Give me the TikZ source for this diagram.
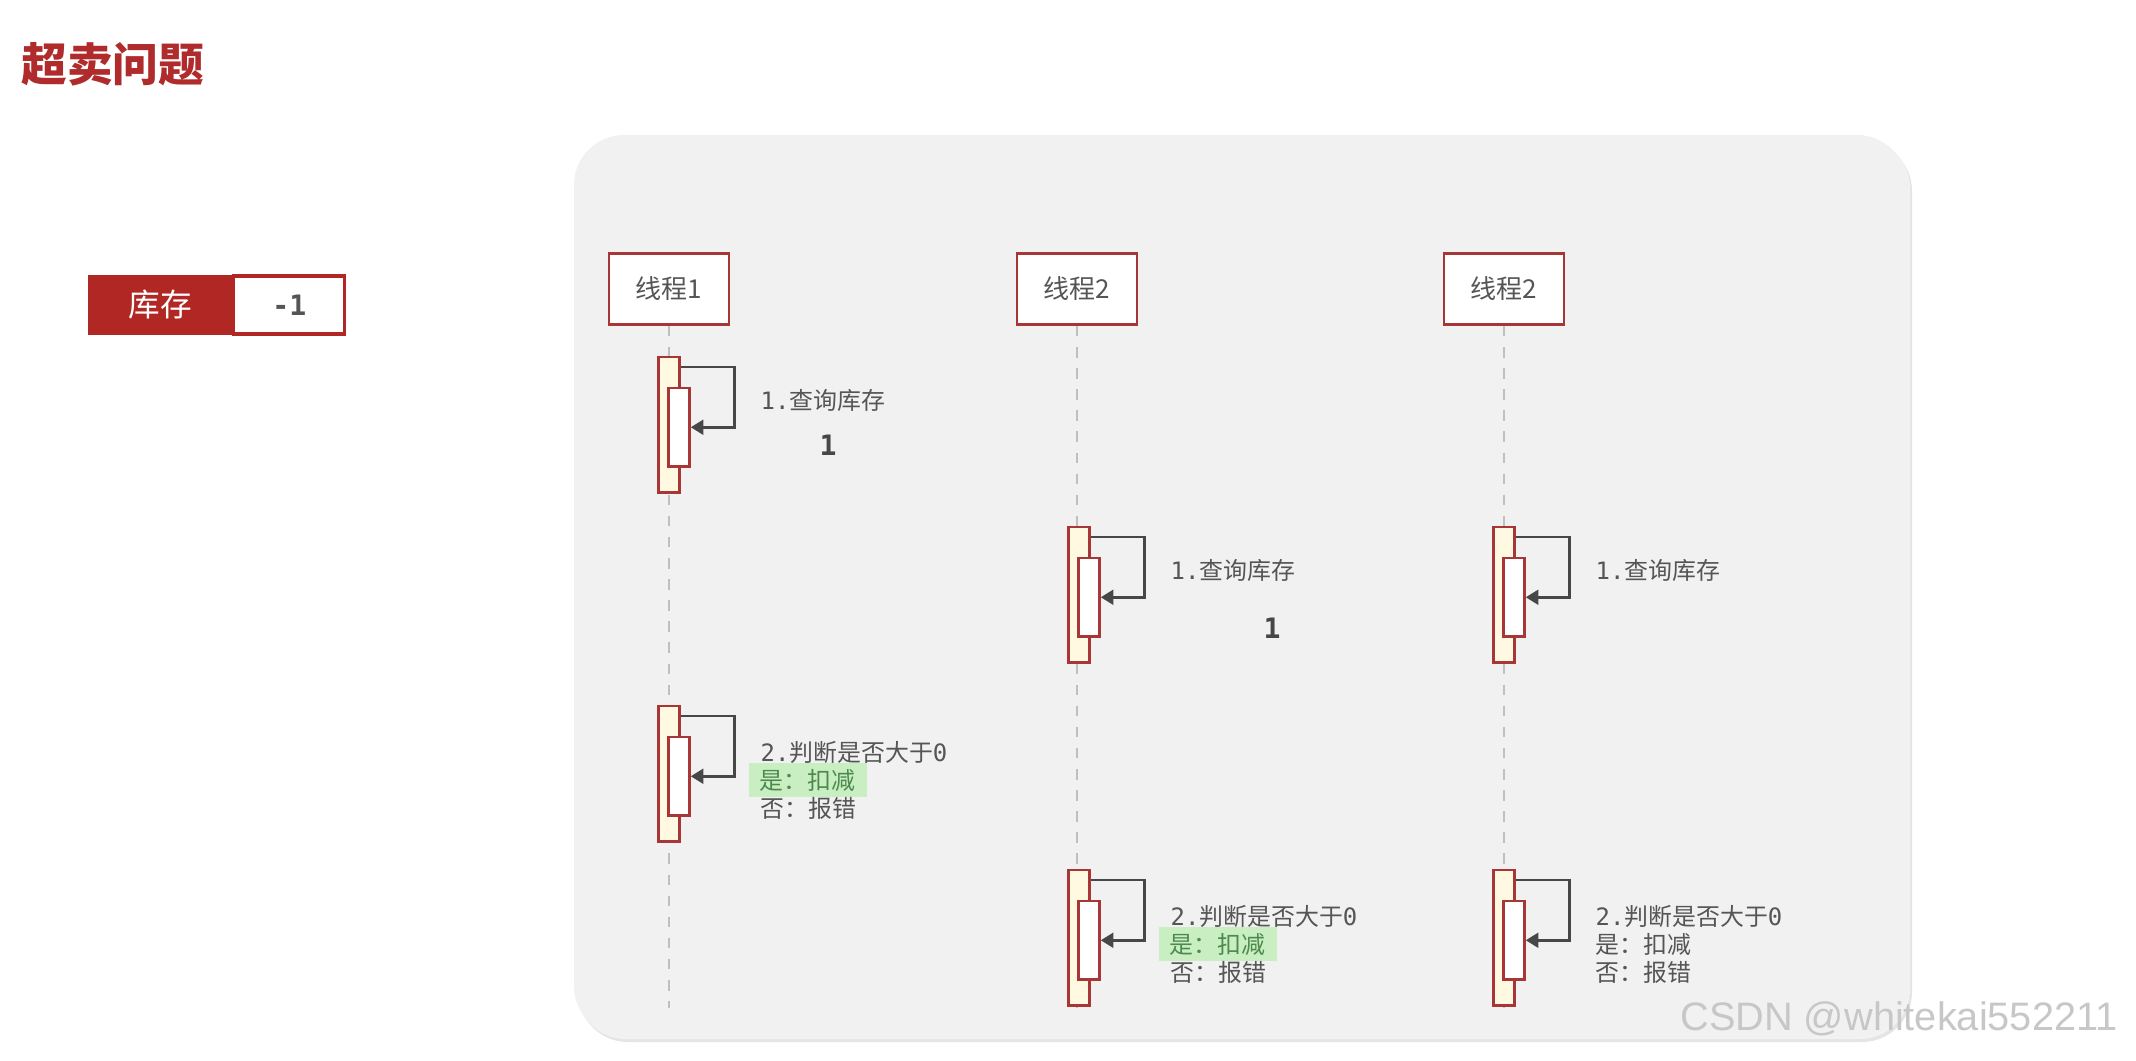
\documentclass[tikz,border=0pt]{standalone}
\usepackage{fontspec}
\usepackage{tikz}
\usetikzlibrary{arrows.meta, positioning, calc}
\newfontfamily\cjk{Noto Sans CJK SC}
\newfontfamily\wmfont{Liberation Sans}
\setmonofont{DejaVu Sans Mono}

\definecolor{thred}{HTML}{A93636}
\definecolor{titlered}{HTML}{B02B2B}
\definecolor{stockred}{HTML}{B02724}
\definecolor{barfill}{HTML}{FFF9E2}
\definecolor{panelbg}{HTML}{F1F1F1}
\definecolor{txtgray}{HTML}{555555}
\definecolor{okgreen}{HTML}{C8EEC2}
\definecolor{oktext}{HTML}{4E8A4E}

\begin{document}
\begin{tikzpicture}[
    x=0.01cm, y=-0.01cm,
    thread/.style={rectangle, draw=thred, line width=0.8pt, fill=white, minimum width=1.2cm, minimum height=0.71cm, font=\cjk\fontsize{7.4}{9}\selectfont, text=txtgray},
    life/.style={draw=black!25, line width=0.5pt, dash pattern=on 3pt off 3pt},
    actout/.style={rectangle, draw=thred, fill=barfill, line width=0.7pt, minimum width=0.21cm, minimum height=1.35cm, anchor=north, inner sep=0pt},
    actin/.style={rectangle, draw=thred, fill=white, line width=0.7pt, minimum width=0.21cm, minimum height=0.78cm, anchor=north, inner sep=0pt},
    self/.style={-{Triangle[length=3.6pt, width=4.2pt]}, draw=black!72, line width=0.8pt},
    lbl/.style={anchor=west, font=\cjk\fontsize{6.8}{8}\selectfont, text=txtgray, inner sep=0pt},
    okline/.style={lbl, fill=okgreen, text=oktext, inner xsep=3.2pt, inner ysep=1.6pt},
    value/.style={font=\ttfamily\bfseries\fontsize{8}{9}\selectfont, text=black!72}
]
    \useasboundingbox (0,0) rectangle (2136,1060);
    \fill[white] (0,0) rectangle (2136,1060);

    % Title and stock counter
    \node[font=\cjk\bfseries\fontsize{13}{15}\selectfont, text=titlered] (title) at (113,64) {超卖问题};
    \node[rectangle, fill=stockred, draw=stockred, line width=0.6pt, minimum width=1.42cm, minimum height=0.58cm, font=\cjk\fontsize{9}{10}\selectfont, text=white, anchor=west] (stockk) at (88,305) {库存};
    \node[rectangle, fill=white, draw=stockred, line width=0.9pt, minimum width=1.11cm, minimum height=0.58cm, font=\ttfamily\bfseries\fontsize{8}{9}\selectfont, text=txtgray, anchor=west, right=0pt of stockk] (stockv) {-1\hspace{0.3cm}};

    % Panel
    \fill[black!10, rounded corners=0.5cm] (578,141) rectangle (1912,1042);
    \fill[black!5, rounded corners=0.5cm] (576,138) rectangle (1910,1039);
    \fill[panelbg, rounded corners=0.5cm] (574,135) rectangle (1907,1036);

    % Threads
    \node[thread] (t1) at (669,289) {线程1};
    \node[thread] (t2) at (1077,289) {线程2};
    \node[thread] (t3) at (1504,289) {线程2};

    \coordinate (bot) at (0,1008);
    \draw[life] (t1.south) -- (t1.south |- bot);
    \draw[life] (t2.south) -- (t2.south |- bot);
    \draw[life] (t3.south) -- (t3.south |- bot);

    % Thread 1
    \node[actout] (a1o) at (669,356) {};
    \node[actin] (a1i) at (679,387) {};
    \draw[self] ([yshift=-0.11cm]a1o.north east) -- ++(0.54cm,0) |- (a1i.east);
    \node[lbl] (q1) at (760,400) {{\ttfamily 1.}查询库存};
    \node[value] (v1) at (828,445) {1};

    \node[actout] (b1o) at (669,705) {};
    \node[actin] (b1i) at (679,736) {};
    \draw[self] ([yshift=-0.11cm]b1o.north east) -- ++(0.54cm,0) |- (b1i.east);
    \node[lbl] (j1) at (760,752) {{\ttfamily 2.}判断是否大于{\ttfamily 0}};
    \node[okline] (y1) at (748,780) {是：扣减};
    \node[lbl] (n1) at (760,808) {否：报错};

    % Thread 2
    \node[actout] (a2o) at (1079,526) {};
    \node[actin] (a2i) at (1089,557) {};
    \draw[self] ([yshift=-0.11cm]a2o.north east) -- ++(0.54cm,0) |- (a2i.east);
    \node[lbl] (q2) at (1170,570) {{\ttfamily 1.}查询库存};
    \node[value] (v2) at (1272,628) {1};

    \node[actout] (b2o) at (1079,869) {};
    \node[actin] (b2i) at (1089,900) {};
    \draw[self] ([yshift=-0.11cm]b2o.north east) -- ++(0.54cm,0) |- (b2i.east);
    \node[lbl] (j2) at (1170,916) {{\ttfamily 2.}判断是否大于{\ttfamily 0}};
    \node[okline] (y2) at (1158,944) {是：扣减};
    \node[lbl] (n2) at (1170,972) {否：报错};

    % Thread 3
    \node[actout] (a3o) at (1504,526) {};
    \node[actin] (a3i) at (1514,557) {};
    \draw[self] ([yshift=-0.11cm]a3o.north east) -- ++(0.54cm,0) |- (a3i.east);
    \node[lbl] (q3) at (1595,570) {{\ttfamily 1.}查询库存};

    \node[actout] (b3o) at (1504,869) {};
    \node[actin] (b3i) at (1514,900) {};
    \draw[self] ([yshift=-0.11cm]b3o.north east) -- ++(0.54cm,0) |- (b3i.east);
    \node[lbl] (j3) at (1595,916) {{\ttfamily 2.}判断是否大于{\ttfamily 0}};
    \node[lbl] (y3) at (1595,944) {是：扣减};
    \node[lbl] (n3) at (1595,972) {否：报错};

    % Watermark
    \node[font=\wmfont\fontsize{11.3}{13}\selectfont, text=black!22, anchor=base east] (wm) at (2130,1030) {CSDN @whitekai552211};
\end{tikzpicture}
\end{document}
